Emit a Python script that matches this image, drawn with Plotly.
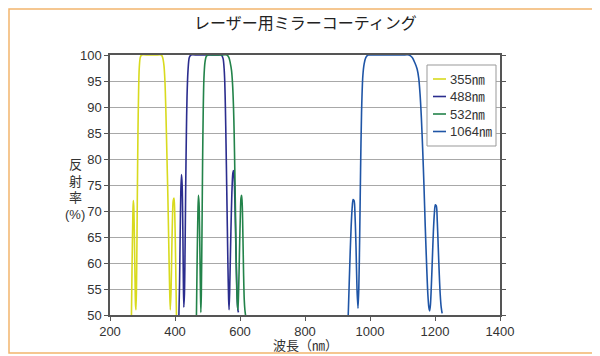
import plotly.graph_objects as go

# ---------------- data ----------------
series_names = ["355㎚", "488㎚", "532㎚", "1064㎚"]
series_colors = ["#d8da1e", "#2b2d8e", "#23834a", "#1f55a6"]

wl_355 = [266, 268, 270, 271.5, 273, 275, 277, 278.5, 280, 282, 284, 286, 288, 290, 293, 297,
          320, 340, 358, 362, 366, 369, 372, 375, 378, 381, 383.5, 385.5, 388, 390, 392, 394.5,
          397, 399, 401, 403, 404.5]
r_355 = [50, 60, 68, 72, 71, 65, 57, 52, 51, 58, 72, 85, 93, 97.5, 99.5, 100,
         100, 100, 100, 99.5, 98, 95, 89, 81, 73, 63, 55, 51, 55, 62, 68, 72,
         72.5, 70, 64, 56, 50]

wl_488 = [412, 414, 416, 418, 420, 422, 424, 425.5, 427, 429, 431, 433, 435, 437, 440, 444, 449,
          470, 500, 530, 543, 548, 551, 553, 555, 557, 559, 561, 563, 565, 566.5, 569, 572, 575,
          578, 580, 582, 584, 586, 588, 590, 592, 594, 595.5]
r_488 = [50, 56, 66, 74, 77, 75, 67, 58, 51.5, 54, 63, 75, 85, 92, 97, 99.5, 100,
         100, 100, 100, 100, 99.3, 97.5, 95, 90, 83, 75, 67, 59, 53, 51, 57, 66, 73.5,
         77.3, 77.8, 76.5, 72.5, 67, 61, 56, 52.5, 50.8, 50.5]

wl_532 = [466, 468, 470, 472, 474, 476, 478, 479.5, 481, 483, 485, 487, 489, 492, 496, 501,
          520, 540, 560, 566, 570, 574, 577, 580, 582, 584, 586, 588, 590, 592, 593.5, 595,
          597, 599, 601, 603, 605, 607, 609, 611, 613, 615, 617]
r_532 = [50, 60, 68, 73, 71.5, 65, 56, 50.5, 54, 66, 80, 90, 95.5, 98.5, 99.7, 100,
         100, 100, 100, 99.5, 98.5, 97, 94.5, 90, 85, 78, 70, 62, 55, 52, 51, 53,
         58, 64, 69, 72.5, 73, 71, 65, 58, 53, 51, 50]

wl_1064 = [933, 936, 939, 942, 945, 948, 951, 954, 957, 960, 963, 965.5, 968, 971, 974, 978,
           982, 987, 994, 1000, 1050, 1100, 1120, 1130, 1138, 1145, 1150, 1154, 1158, 1162,
           1166, 1170, 1174, 1178, 1181, 1183.5, 1186, 1189, 1192, 1195, 1198, 1201, 1204,
           1207, 1210, 1213, 1216, 1219, 1222]
r_1064 = [50, 56, 62, 67, 70.5, 72.2, 72, 69, 63, 55, 51.3, 55, 64, 78, 89, 96,
          98.3, 99.5, 100, 100, 100, 100, 100, 99.5, 98.5, 97.3, 95.5, 92.5, 88, 82,
          75, 67, 60, 54, 51.5, 50.8, 52, 56, 61, 66, 69.5, 71.2, 71,
          68, 63, 58, 54, 51.5, 50.3]

x_ticks = [200, 400, 600, 800, 1000, 1200, 1400]
y_ticks = [50, 55, 60, 65, 70, 75, 80, 85, 90, 95, 100]
y_title_lines = ["反", "射", "率", "(%)"]

# ---------------- layout constants (screen pixels) ----------------
W, H = 600, 356
OFF = 8                      # page body margin offset
PL, PT, PW, PH = 110, 55, 390, 260   # plot area on screen
L, T = PL - OFF, PT - OFF
R, B = W - L - PW, H - T - PH
FONT = "Liberation Sans, Arial, Noto Sans CJK JP, sans-serif"
CJK = "Noto Sans CJK JP, sans-serif"


def px(x):
    return (x - PL) / PW


def py(y):
    return (PT + PH - y) / PH


fig = go.Figure()
all_x = [wl_355, wl_488, wl_532, wl_1064]
all_y = [r_355, r_488, r_532, r_1064]
for name, col, xs, ys in zip(series_names, series_colors, all_x, all_y):
    fig.add_trace(go.Scatter(x=xs, y=ys, mode="lines", name=name,
                             line=dict(color=col, width=1.6, shape="spline", smoothing=0.8),
                             showlegend=False))

shapes = []
annotations = []
# outer orange frame
shapes.append(dict(type="rect", xref="paper", yref="paper",
                   x0=px(OFF + 1), x1=px(597), y0=py(353), y1=py(OFF + 1),
                   line=dict(color="#f2b56e", width=1.5), fillcolor="rgba(0,0,0,0)", layer="below"))
# manual legend
shapes.append(dict(type="rect", xref="paper", yref="paper",
                   x0=px(427), x1=px(496), y0=py(146), y1=py(65),
                   line=dict(color="#999999", width=1), fillcolor="white", layer="above"))
leg_y = [79, 96.5, 114, 131.5]
for name, col, ly in zip(series_names, series_colors, leg_y):
    shapes.append(dict(type="line", xref="paper", yref="paper",
                       x0=px(433), x1=px(446), y0=py(ly), y1=py(ly),
                       line=dict(color=col, width=1.6), layer="above"))
    annotations.append(dict(xref="paper", yref="paper", x=px(449), y=py(ly),
                            text=name, showarrow=False, xanchor="left", yanchor="middle",
                            borderpad=0,
                            font=dict(family=FONT, size=13, color="#333333")))

# title
annotations.append(dict(xref="paper", yref="paper", x=px(305), y=py(22),
                        text="レーザー用ミラーコーティング", showarrow=False,
                        xanchor="center", yanchor="middle",
                        font=dict(family=CJK, size=16, color="#222222")))
# y title (stacked, one annotation per line)
for txt, ly in zip(y_title_lines, [164, 181, 197.5, 214]):
    annotations.append(dict(xref="paper", yref="paper", x=px(75), y=py(ly),
                            text=txt, showarrow=False, borderpad=0,
                            xanchor="center", yanchor="middle",
                            font=dict(family=FONT, size=13, color="#333333")))
# x title
annotations.append(dict(xref="paper", yref="paper", x=px(305), y=py(345.5),
                        text="波長（㎚）", showarrow=False, borderpad=0,
                        xanchor="center", yanchor="middle",
                        font=dict(family=FONT, size=13, color="#333333")))

fig.update_layout(
    width=W, height=H,
    margin=dict(l=L, r=R, t=T, b=B, pad=0),
    paper_bgcolor="white", plot_bgcolor="white",
    showlegend=False,
    shapes=shapes, annotations=annotations,
    font=dict(family=FONT, size=13, color="#333333"),
)
fig.update_xaxes(range=[200, 1400], tickvals=x_ticks, ticktext=[str(v) for v in x_ticks],
                 showgrid=False, zeroline=False,
                 showline=True, linecolor="#555555", linewidth=1.5, mirror=True,
                 ticks="outside", ticklen=4, tickcolor="#555555", tickwidth=1.2,
                 tickfont=dict(family=FONT, size=13, color="#333333"))
fig.update_yaxes(range=[50, 100], tickvals=y_ticks, ticktext=[str(v) for v in y_ticks],
                 showgrid=True, gridcolor="#a8a8a8", gridwidth=1.3, zeroline=False,
                 showline=True, linecolor="#555555", linewidth=1.5, mirror="ticks",
                 ticks="outside", ticklen=4, tickcolor="#555555", tickwidth=1.2,
                 tickfont=dict(family=FONT, size=13, color="#333333"))

fig.write_html("out.html")
